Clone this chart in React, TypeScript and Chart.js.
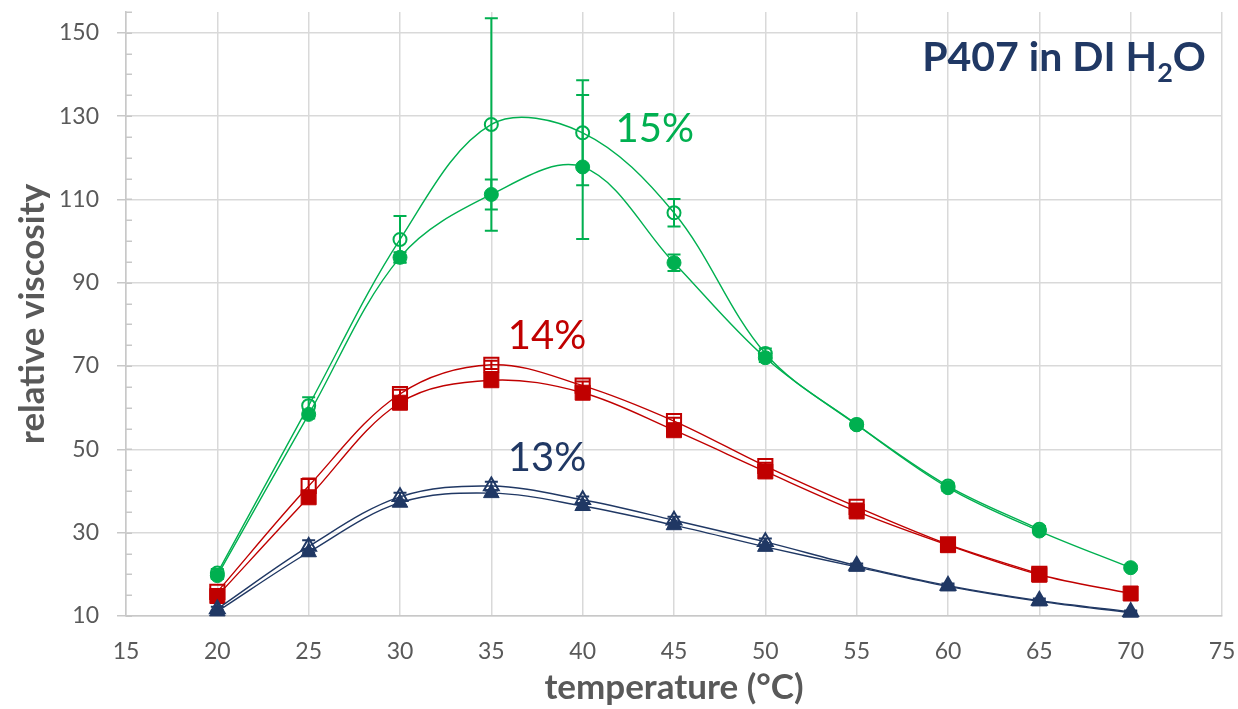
import React, { useEffect, useRef } from 'react';
import { Chart, registerables } from 'chart.js';

Chart.register(...registerables);

// ---------- data ----------
const temperatures = [20, 25, 30, 35, 40, 45, 50, 55, 60, 65, 70];

// 15% P407 (open = upper curve, filled = lower curve)
const p15Open = [20.3, 60.5, 100.4, 128.0, 126.0, 106.8, 73.0, 56.0, 41.2, 30.8];
const p15OpenErr = [1.0, 2.0, 5.6, 25.5, 12.6, 3.3, 1.2, 0.8, 0.8, 0.8];
const p15Filled = [19.7, 58.4, 96.1, 111.2, 117.8, 94.8, 72.0, 55.9, 40.8, 30.4, 21.6];
const p15FilledErr = [0.8, 1.0, 1.2, 3.6, 17.3, 2.0, 1.0, 0.8, 0.8, 0.8, 0.5];

// 14% P407
const p14Open = [15.8, 41.2, 63.3, 70.3, 65.3, 56.8, 46.0, 36.2, 27.2, 20.1];
const p14OpenErr = [0.5, 1.8, 1.0, 1.0, 1.0, 0.8, 0.8, 0.8, 0.5, 0.5];
const p14Filled = [14.8, 38.5, 61.2, 66.6, 63.6, 54.6, 44.7, 35.1, 27.0, 19.9, 15.4];
const p14FilledErr = [0.5, 1.0, 0.8, 0.5, 0.5, 0.5, 0.5, 0.5, 0.3, 0.3, 0.3];

// 13% P407
const p13Open = [11.7, 26.7, 38.6, 41.2, 37.9, 33.0, 27.8, 22.1, 17.3, 13.7, 11.0];
const p13OpenErr = [0.5, 1.5, 1.0, 1.0, 0.8, 0.8, 0.8, 0.5, 0.5, 0.5, 0.3];
const p13Filled = [11.1, 25.3, 37.2, 39.5, 36.4, 31.8, 26.6, 21.8, 17.1, 13.5, 10.8];
const p13FilledErr = [0.3, 0.8, 0.6, 0.6, 0.5, 0.5, 0.5, 0.3, 0.3, 0.3, 0.3];

const yTicks = [10, 30, 50, 70, 90, 110, 130, 150];
const xTicks = [15, 20, 25, 30, 35, 40, 45, 50, 55, 60, 65, 70, 75];

const seriesLabels = ['15%', '14%', '13%'];
const labelAnchorX = [41.8, 35.9, 35.9];
const labelAnchorY = [123.8, 74.0, 44.8];

// ---------- styles ----------
const GREEN = '#00B050';
const RED = '#C00000';
const NAVY = '#203864';
const GRID = '#d9d9d9';
const AXIS = '#c8c8c8';
const TEXT = '#595959';
const FONT = 'Lato';

const toPoints = (vals: number[]) => vals.map((v, i) => ({ x: temperatures[i], y: v }));

function makeSet(label: string, vals: number[], errs: number[], color: string, style: string, open: boolean, radius: number) {
  return {
    label,
    data: toPoints(vals),
    errors: errs,
    borderColor: color,
    backgroundColor: color,
    borderWidth: 1.4,
    pointStyle: style,
    pointRadius: radius,
    pointHoverRadius: radius,
    pointBorderWidth: open ? 2 : 1,
    pointBorderColor: color,
    pointBackgroundColor: open ? 'rgba(0,0,0,0)' : color,
    tension: 0.35,
    clip: false as const,
    fill: false,
  };
}

const errorBarPlugin = {
  id: 'errorBars',
  beforeDatasetsDraw(chart: any) {
    const { ctx } = chart;
    const ys = chart.scales.y;
    const xs = chart.scales.x;
    ctx.save();
    chart.data.datasets.forEach((ds: any) => {
      const errs: number[] = ds.errors || [];
      ctx.strokeStyle = ds.borderColor;
      ctx.lineWidth = 2;
      ds.data.forEach((p: any, i: number) => {
        const e = errs[i];
        if (!e) return;
        const x = xs.getPixelForValue(p.x);
        const y1 = ys.getPixelForValue(p.y + e);
        const y2 = ys.getPixelForValue(p.y - e);
        ctx.beginPath();
        ctx.moveTo(x, y1);
        ctx.lineTo(x, y2);
        ctx.moveTo(x - 6.5, y1);
        ctx.lineTo(x + 6.5, y1);
        ctx.moveTo(x - 6.5, y2);
        ctx.lineTo(x + 6.5, y2);
        ctx.stroke();
      });
    });
    ctx.restore();
  },
};

const decorPlugin = {
  id: 'decor',
  afterDraw(chart: any) {
    const { ctx, chartArea } = chart;
    const ys = chart.scales.y;
    const xs = chart.scales.x;
    ctx.save();
    // minor ticks on y axis (inside)
    ctx.strokeStyle = AXIS;
    ctx.lineWidth = 1.5;
    for (let v = 10; v <= 155; v += 5) {
      const y = Math.round(ys.getPixelForValue(v)) + 0.25;
      ctx.beginPath();
      ctx.moveTo(chartArea.left, y);
      ctx.lineTo(chartArea.left + 6, y);
      ctx.stroke();
    }
    // series labels
    const colors = [GREEN, RED, NAVY];
    ctx.font = `40px ${FONT}`;
    ctx.textBaseline = 'alphabetic';
    ctx.textAlign = 'left';
    seriesLabels.forEach((t, i) => {
      ctx.fillStyle = colors[i];
      ctx.fillText(t, xs.getPixelForValue(labelAnchorX[i]), ys.getPixelForValue(labelAnchorY[i]));
    });
    // title "P407 in DI H2O"
    const big = `bold 41px ${FONT}`;
    const small = `bold 27px ${FONT}`;
    ctx.fillStyle = NAVY;
    ctx.font = big;
    const w1 = ctx.measureText('P407 in DI H').width;
    const w3 = ctx.measureText('O').width;
    ctx.font = small;
    const w2 = ctx.measureText('2').width;
    const right = chartArea.right - 16;
    let x = right - (w1 + w2 + w3);
    const base = 71;
    ctx.font = big;
    ctx.fillText('P407 in DI H', x, base);
    x += w1;
    ctx.font = small;
    ctx.fillText('2', x, base + 11);
    x += w2;
    ctx.font = big;
    ctx.fillText('O', x, base);
    ctx.restore();
  },
};

export default function App() {
  const ref = useRef<HTMLCanvasElement>(null);
  useEffect(() => {
    if (!ref.current) return;
    Chart.defaults.font.family = FONT;
    const chart = new Chart(ref.current, {
      type: 'line',
      data: {
        datasets: [
          makeSet('13% open', p13Open, p13OpenErr, NAVY, 'triangle', true, 8.5),
          makeSet('13% filled', p13Filled, p13FilledErr, NAVY, 'triangle', false, 9),
          makeSet('14% open', p14Open, p14OpenErr, RED, 'rect', true, 10),
          makeSet('14% filled', p14Filled, p14FilledErr, RED, 'rect', false, 10.6),
          makeSet('15% open', p15Open, p15OpenErr, GREEN, 'circle', true, 6.5),
          makeSet('15% filled', p15Filled, p15FilledErr, GREEN, 'circle', false, 7),
        ] as any,
      },
      options: {
        animation: false,
        responsive: true,
        maintainAspectRatio: false,
        layout: { padding: { left: 0, right: 16, top: 7, bottom: 0 } },
        plugins: { legend: { display: false }, tooltip: { enabled: false }, title: { display: false } },
        scales: {
          x: {
            type: 'linear',
            min: 15,
            max: 75,
            afterBuildTicks: (axis: any) => { axis.ticks = xTicks.map((v) => ({ value: v })); },
            afterFit: (s: any) => { s.height = 93; s.paddingLeft = 0; s.paddingRight = 0; },
            grid: { color: GRID, lineWidth: 1.5, drawTicks: false },
            border: { color: AXIS, width: 1.5 },
            ticks: { color: TEXT, font: { size: 23, family: FONT }, padding: 22, maxRotation: 0 },
            title: {
              display: true,
              text: 'temperature (°C)',
              color: TEXT,
              font: { size: 35, weight: 'bold', family: FONT },
              padding: { top: 0, bottom: 0 },
            },
          },
          y: {
            type: 'linear',
            min: 10,
            max: 155,
            afterBuildTicks: (axis: any) => { axis.ticks = yTicks.map((v) => ({ value: v })); },
            afterFit: (s: any) => { s.width = 126; s.paddingTop = 0; s.paddingBottom = 0; },
            grid: { color: GRID, lineWidth: 1.5, drawTicks: true, tickLength: 9, tickColor: AXIS },
            border: { color: AXIS, width: 1.5 },
            ticks: { color: TEXT, font: { size: 23, family: FONT }, padding: 18 },
            title: {
              display: true,
              text: 'relative viscosity',
              color: TEXT,
              font: { size: 35, weight: 'bold', family: FONT },
              padding: { top: 12, bottom: 0 },
            },
          },
        },
      },
      plugins: [errorBarPlugin, decorPlugin],
    });
    return () => chart.destroy();
  }, []);
  return (
    <div style={{ position: 'absolute', left: 0, top: 0, width: 1238, height: 709 }}>
      <canvas ref={ref} style={{ display: 'block' }} />
    </div>
  );
}
